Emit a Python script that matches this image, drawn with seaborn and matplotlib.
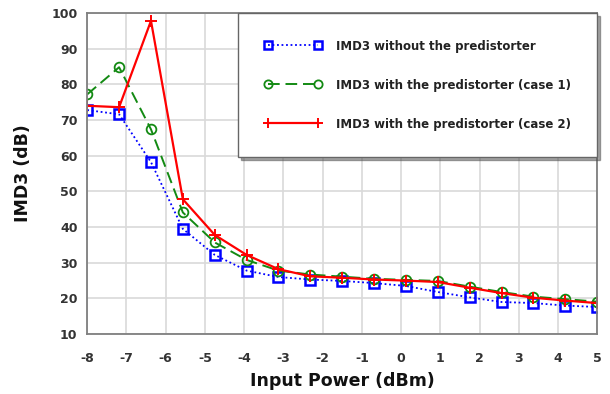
import numpy as np
import pandas as pd
import matplotlib
matplotlib.use("Agg")
import matplotlib.pyplot as plt
import seaborn as sns

# Data
input_power = [-8.0, -7.1875, -6.375, -5.5625, -4.75, -3.9375, -3.125, -2.3125, -1.5,
               -0.6875, 0.125, 0.9375, 1.75, 2.5625, 3.375, 4.1875, 5.0]
imd3_without = [72.8, 71.6, 58.2, 39.5, 32.2, 27.8, 26.0, 25.3, 24.9, 24.3, 23.5, 21.8,
                20.3, 19.0, 18.7, 18.0, 17.6]
imd3_case1 = [77.2, 84.8, 67.4, 44.1, 35.7, 30.8, 27.8, 26.7, 26.1, 25.5, 25.2, 24.9,
              23.3, 21.8, 20.5, 19.8, 19.1]
imd3_case2 = [74.0, 73.6, 97.8, 47.8, 37.8, 32.2, 28.2, 26.2, 25.8, 25.3, 25.0, 24.6,
              23.0, 21.5, 20.2, 19.4, 18.7]
labels = ["IMD3 without the predistorter",
          "IMD3 with the predistorter (case 1)",
          "IMD3 with the predistorter (case 2)"]
x_ticks = list(range(-8, 6))
y_ticks = list(range(10, 101, 10))

sns.set_theme(style="whitegrid")
plt.rcParams['font.family'] = ['DejaVu Sans']
plt.rcParams['axes.unicode_minus'] = False

fig = plt.figure(figsize=(6.1, 3.94), dpi=100)
ax = fig.add_axes([0.143, 0.152, 0.836, 0.815])

series = [imd3_without, imd3_case1, imd3_case2]
cfg = [
    dict(color="#0000FF", dash=(1, 1.5), marker="s",
         kw=dict(markersize=6.5, markerfacecolor="none", markeredgewidth=1.8, linewidth=1.3)),
    dict(color="#138A13", dash=(6, 3), marker="o",
         kw=dict(markersize=7, markerfacecolor="none", markeredgewidth=1.3, linewidth=1.4)),
    dict(color="#FF0000", dash="", marker="+",
         kw=dict(markersize=9, markeredgewidth=1.4, linewidth=1.6)),
]
for vals, lab, c in zip(series, labels, cfg):
    df = pd.DataFrame({"x": input_power, "y": vals, "s": lab})
    sns.lineplot(data=df, x="x", y="y", style="s", ax=ax, color=c["color"],
                 markers=[c["marker"]], dashes=[c["dash"]],
                 markeredgecolor=c["color"], **c["kw"])

ax.set_xlim(-8, 5)
ax.set_ylim(10, 100)
ax.set_xticks(x_ticks)
ax.set_yticks(y_ticks)
ax.tick_params(axis="both", labelsize=9, colors="#333333", length=0)
ax.tick_params(axis="x", pad=13)
ax.tick_params(axis="y", pad=7)
for t in ax.get_xticklabels() + ax.get_yticklabels():
    t.set_fontweight("bold")
ax.grid(True, color="#d9d9d9", linewidth=1.2)
for s in ax.spines.values():
    s.set_color("#7f7f7f")
    s.set_linewidth(1.3)
ax.set_xlabel("Input Power (dBm)", fontsize=12.5, fontweight="bold", color="#111111", labelpad=5)
ax.set_ylabel("IMD3 (dB)", fontsize=12.5, fontweight="bold", color="#111111", labelpad=14)

handles, _ = ax.get_legend_handles_labels()
leg = ax.legend(handles, labels, loc="upper right", bbox_to_anchor=(1.0, 1.0), borderaxespad=0,
                fontsize=8.5, numpoints=2, handlelength=4.8, handletextpad=1.2,
                borderpad=2.25, labelspacing=2.2, fancybox=False, shadow=True,
                framealpha=1, edgecolor="#666666", markerscale=0.85)
leg.get_frame().set_linewidth(1.0)
for t in leg.get_texts():
    t.set_fontweight("bold")
    t.set_color("#222222")

fig.savefig("out.png", dpi=100)
